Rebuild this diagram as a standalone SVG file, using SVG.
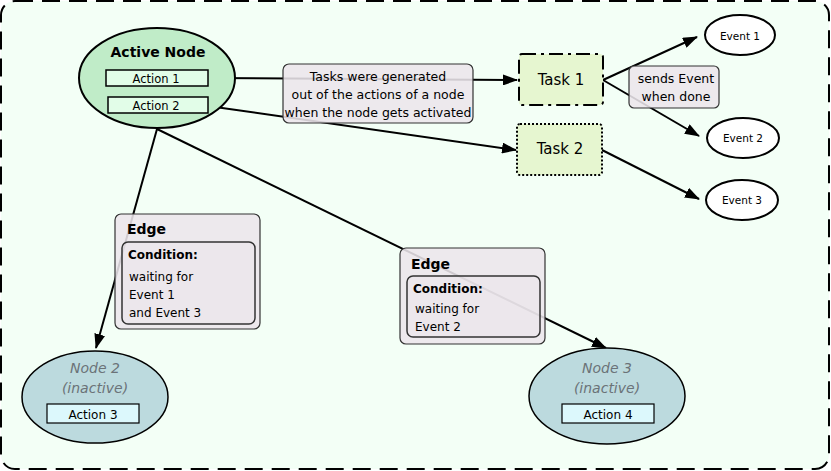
<svg xmlns="http://www.w3.org/2000/svg" width="831" height="471" viewBox="0 0 831 471">
<defs>
<marker id="arr" markerWidth="15" markerHeight="11" refX="14" refY="5.5" orient="auto" markerUnits="userSpaceOnUse">
<path d="M0,0 L15,5.5 L0,11 Z" fill="#000"/>
</marker>
<style>
text{font-family:"DejaVu Sans","Liberation Sans",sans-serif;fill:#000}
.conn{stroke:#000;stroke-width:2;fill:none}
.act{stroke:#000;stroke-width:1.5}
.lbl{fill:#ece6ec;fill-opacity:0.88;stroke:#333;stroke-width:1.2}
.ev{fill:#fff;stroke:#000;stroke-width:2}
.task{fill:#e6f6d0;stroke:#000;stroke-width:2}
.inact{font-style:italic;fill:#6b7378;font-size:14px}
</style>
</defs>
<rect x="1" y="1" width="828" height="468" rx="14" fill="#f3fff6" stroke="#000" stroke-width="2" stroke-dasharray="18,9"/>
<g id="connectors">
<line class="conn" x1="208" y1="78" x2="517" y2="80" marker-end="url(#arr)"/>
<line class="conn" x1="208" y1="106" x2="516" y2="150" marker-end="url(#arr)"/>
<line class="conn" x1="603" y1="80" x2="697" y2="37" marker-end="url(#arr)"/>
<line class="conn" x1="603" y1="80" x2="699" y2="136" marker-end="url(#arr)"/>
<line class="conn" x1="602" y1="150" x2="699" y2="199" marker-end="url(#arr)"/>
<line class="conn" x1="157" y1="129" x2="96" y2="348" marker-end="url(#arr)"/>
<line class="conn" x1="157" y1="129" x2="606" y2="348" marker-end="url(#arr)"/>
</g>
<g id="active-node">
<ellipse cx="157" cy="78" rx="78" ry="50" fill="#c0ecc8" stroke="#000" stroke-width="2"/>
<text x="158" y="57" text-anchor="middle" font-size="14" font-weight="bold">Active Node</text>
<rect class="act" x="106" y="70" width="102" height="16" fill="#e2fde8"/>
<text x="156" y="82.5" text-anchor="middle" font-size="11.5">Action 1</text>
<rect class="act" x="108" y="97" width="100" height="16" fill="#e2fde8"/>
<text x="156" y="109.5" text-anchor="middle" font-size="11.5">Action 2</text>
</g>
<g id="label-tasks">
<rect class="lbl" x="283" y="64" width="190" height="59" rx="6"/>
<text x="378" y="81" text-anchor="middle" font-size="12.5">Tasks were generated</text>
<text x="378" y="99" text-anchor="middle" font-size="12.5">out of the actions of a node</text>
<text x="378" y="117" text-anchor="middle" font-size="12.5">when the node gets activated</text>
</g>
<g id="task1">
<rect class="task" x="519" y="54" width="84" height="51" rx="3" stroke-dasharray="14,5,3,5"/>
<text x="561" y="85" text-anchor="middle" font-size="15">Task 1</text>
</g>
<g id="task2">
<rect class="task" x="517" y="124" width="85" height="51" rx="3" stroke-dasharray="2,2"/>
<text x="560" y="154" text-anchor="middle" font-size="15">Task 2</text>
</g>
<g id="label-sends">
<rect class="lbl" x="629" y="66" width="90" height="42" rx="5"/>
<text x="676" y="83" text-anchor="middle" font-size="12.5">sends Event</text>
<text x="676" y="101" text-anchor="middle" font-size="12.5">when done</text>
</g>
<g id="event1">
<ellipse class="ev" cx="740" cy="35" rx="35" ry="20"/>
<text x="740" y="40" text-anchor="middle" font-size="10.5">Event 1</text>
</g>
<g id="event2">
<ellipse class="ev" cx="743" cy="138" rx="36" ry="20"/>
<text x="743" y="142" text-anchor="middle" font-size="10.5">Event 2</text>
</g>
<g id="event3">
<ellipse class="ev" cx="742" cy="200" rx="36" ry="20"/>
<text x="742" y="204" text-anchor="middle" font-size="10.5">Event 3</text>
</g>
<g id="edge1">
<rect class="lbl" x="115" y="214" width="145" height="115" rx="6"/>
<text x="127" y="234" font-size="14" font-weight="bold">Edge</text>
<rect x="122" y="242" width="133" height="82" rx="6" fill="#ece6ec" fill-opacity="0.5" stroke="#333" stroke-width="1.5"/>
<text x="128" y="259" font-size="12" font-weight="bold">Condition:</text>
<text x="129" y="281" font-size="12">waiting for</text>
<text x="129" y="299" font-size="12">Event 1</text>
<text x="129" y="317" font-size="12">and Event 3</text>
</g>
<g id="edge2">
<rect class="lbl" x="400" y="248" width="145" height="96" rx="6"/>
<text x="411" y="269" font-size="14" font-weight="bold">Edge</text>
<rect x="407" y="276" width="133" height="61" rx="6" fill="#ece6ec" fill-opacity="0.5" stroke="#333" stroke-width="1.5"/>
<text x="413" y="293" font-size="12" font-weight="bold">Condition:</text>
<text x="415" y="313" font-size="12">waiting for</text>
<text x="415" y="331" font-size="12">Event 2</text>
</g>
<g id="node2">
<ellipse cx="95" cy="397" rx="73" ry="46" fill="#bcdade" stroke="#000" stroke-width="1.5"/>
<text class="inact" x="95" y="373" text-anchor="middle">Node 2</text>
<text class="inact" x="95" y="393" text-anchor="middle">(inactive)</text>
<rect x="47" y="404" width="92" height="19" fill="#dcf8fc" stroke="#000" stroke-width="1.2"/>
<text x="93" y="419" text-anchor="middle" font-size="12">Action 3</text>
</g>
<g id="node3">
<ellipse cx="607" cy="396" rx="78" ry="48" fill="#bcdade" stroke="#000" stroke-width="1.5"/>
<text class="inact" x="607" y="373" text-anchor="middle">Node 3</text>
<text class="inact" x="607" y="393" text-anchor="middle">(inactive)</text>
<rect x="562" y="404" width="92" height="19" fill="#dcf8fc" stroke="#000" stroke-width="1.2"/>
<text x="608" y="419" text-anchor="middle" font-size="12">Action 4</text>
</g>
</svg>
